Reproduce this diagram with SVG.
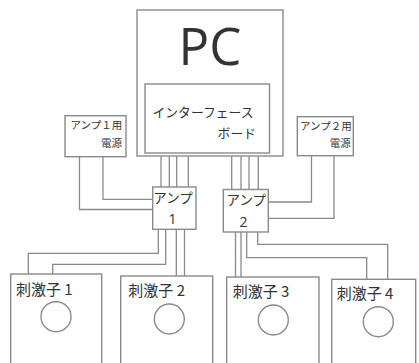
<svg xmlns="http://www.w3.org/2000/svg" width="419" height="363" viewBox="0 0 419 363">
<style>
.box{fill:#fff;stroke:#8a8a8a;stroke-width:1.4}
.w{fill:none;stroke:#8a8a8a;stroke-width:1.3}
text{font-family:"Noto Sans CJK JP","Noto Sans",sans-serif;fill:#333}
.s{font-size:15px}
.a{font-size:13.5px}
.p{font-size:10.5px}
</style>
<rect width="419" height="363" fill="#fff"/>
<g id="connectors" class="w">
<path d="M161 153V187M169.3 153V187M176.7 153V187M188.3 153V187"/>
<path d="M231.7 153V189.5M241 153V189.5M249 153V189.5M258.3 153V189.5"/>
<path d="M79.5 156.7V209.5H152.7M103 156.7V199.3H152.7"/>
<path d="M311.5 155.7V202H268.3M334 155.7V218.3H268.3"/>
<path d="M158.3 229.3V253.3H28.3V274M165.7 229.3V264.3H52.7V274M176.3 229.3V276M184.5 229.3V276"/>
<path d="M235.5 232V277M241 232V277M246.7 232V257.7H366.7V279.3M257.7 232V244.3H387.7V279.3"/>
</g>
<g id="pc">
<rect class="box" x="137" y="10" width="146" height="146"/>
<text x="210" y="65" text-anchor="middle" style="font-size:51px;font-family:'Open Sans','Noto Sans',sans-serif">PC</text>
</g>
<g id="interface">
<rect class="box" x="145" y="84" width="124.5" height="69"/>
<text x="152.5" y="117" style="font-size:12.8px">インターフェース</text>
<text x="256" y="138" text-anchor="end" style="font-size:12.8px">ボード</text>
</g>
<g id="power1">
<rect class="box" x="65" y="115.7" width="61" height="41"/>
<text class="p" x="70.5" y="129">アンプ１用</text>
<text class="p" x="122" y="146.7" text-anchor="end">電源</text>
</g>
<g id="power2">
<rect class="box" x="297.3" y="116.7" width="56" height="39"/>
<text class="p" x="300" y="129.5">アンプ２用</text>
<text class="p" x="350.7" y="147.3" text-anchor="end">電源</text>
</g>
<g id="amp1">
<rect class="box" x="152.7" y="187" width="43.3" height="42.3"/>
<text class="a" x="153.2" y="203">アンプ</text>
<text x="172.5" y="224" text-anchor="middle" style="font-size:14px;font-family:'Open Sans',sans-serif">1</text>
</g>
<g id="amp2">
<rect class="box" x="223.3" y="189.5" width="45" height="42.5"/>
<text class="a" x="226.5" y="205">アンプ</text>
<text x="243.5" y="226.7" text-anchor="middle" style="font-size:14px;font-family:'Open Sans',sans-serif">2</text>
</g>
<g id="stim1">
<rect class="box" x="10.7" y="274" width="91" height="100"/>
<text class="s" x="16" y="295">刺激子 1</text>
<circle class="box" cx="56" cy="316.7" r="15"/>
</g>
<g id="stim2">
<rect class="box" x="120.7" y="276" width="92" height="100"/>
<text class="s" x="128.3" y="296">刺激子 2</text>
<circle class="box" cx="169.3" cy="319" r="15"/>
</g>
<g id="stim3">
<rect class="box" x="226.7" y="277" width="92.3" height="100"/>
<text class="s" x="232.7" y="297.3">刺激子 3</text>
<circle class="box" cx="273.3" cy="320" r="15"/>
</g>
<g id="stim4">
<rect class="box" x="331.7" y="279.3" width="84" height="100"/>
<text class="s" x="336.7" y="299">刺激子 4</text>
<circle class="box" cx="378.3" cy="321.7" r="15"/>
</g>
</svg>
